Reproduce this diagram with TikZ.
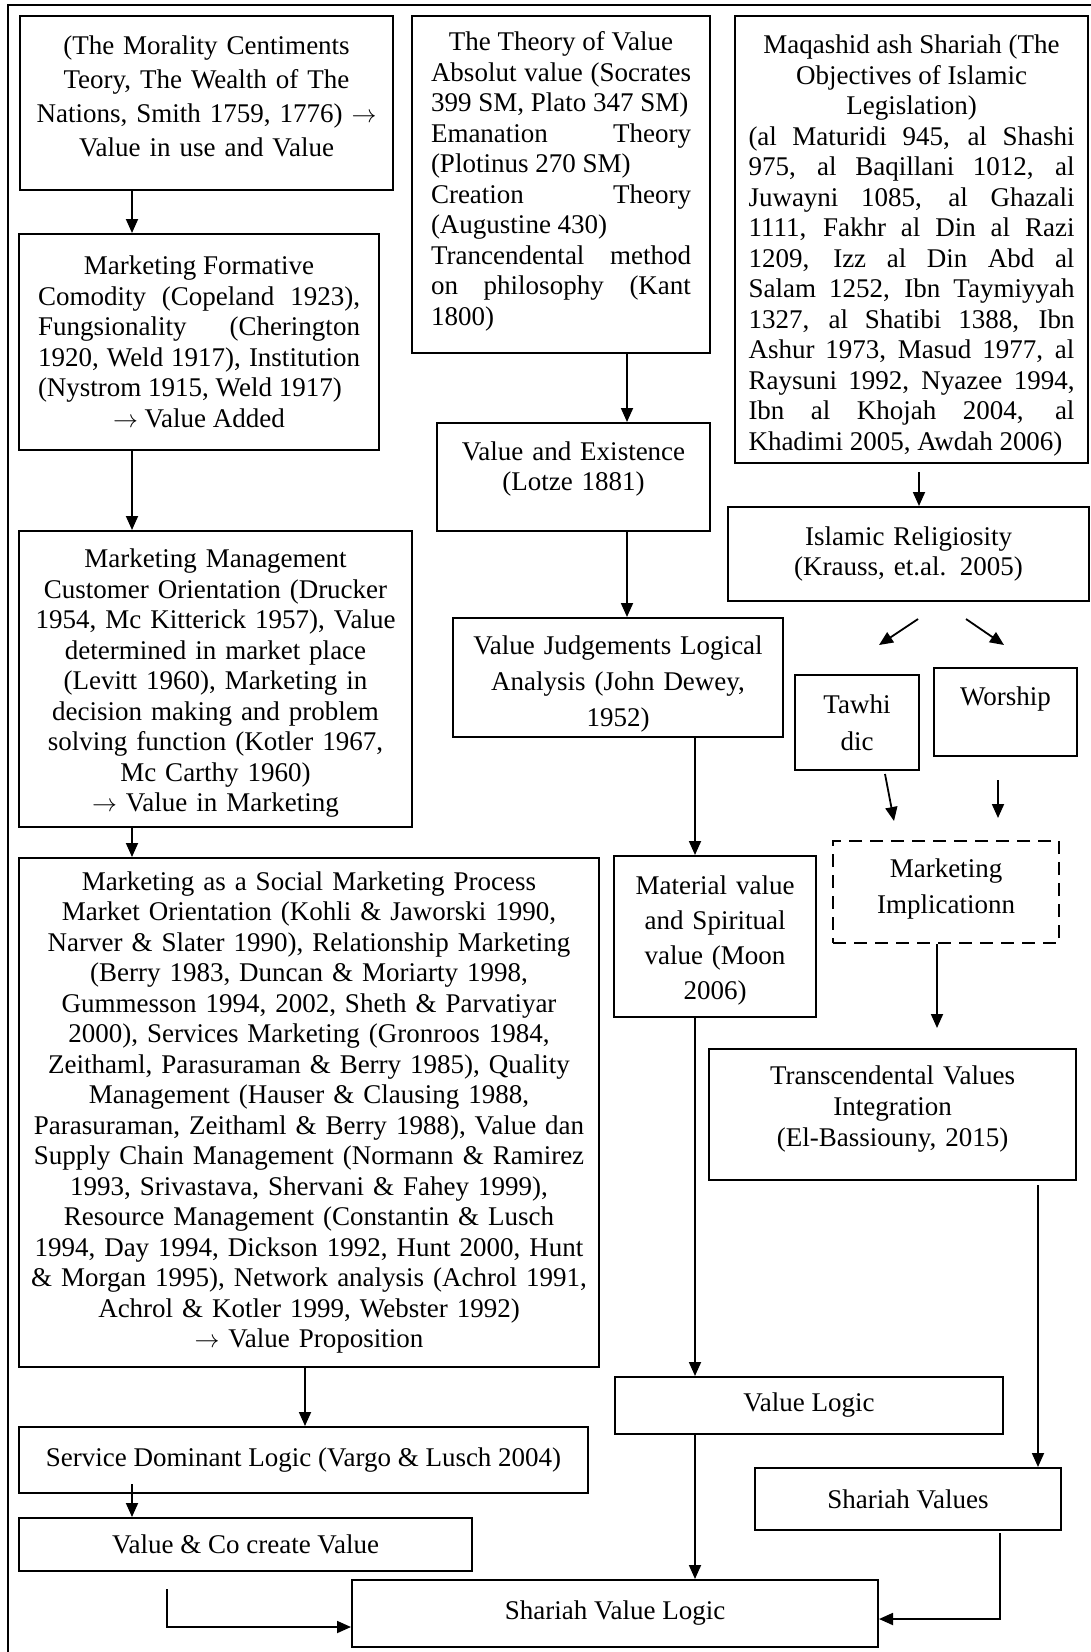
\documentclass[tikz,border=0pt]{standalone}
\usepackage{fontspec}
\setmainfont{Liberation Serif}
\usetikzlibrary{positioning, arrows.meta}

% extra room under the last line / above the first line of a box
\newcommand{\padbelow}[1]{\rule[-#1]{0pt}{#1}}
\newcommand{\padabove}[1]{\rule{0pt}{#1}}
\newcommand{\thenarrow}{$\rightarrow$}

\begin{document}
\begin{tikzpicture}[x=1pt, y=-1pt]

% Styles
\tikzset{
	flowbox/.style={
		rectangle, draw, line width=2pt, inner sep=0pt,
		align=center, font=\fontsize{27}{30.5}\selectfont
	},
	justbox/.style={flowbox, align=justify},
	dashbox/.style={flowbox, dash pattern=on 13pt off 8pt},
	arrowflow/.style={line width=1.8pt, -{Triangle[length=14pt, width=12pt]}}
}

\useasboundingbox (0,0) rectangle (1091,1652);

% Outer frame
\draw[line width=2.5pt] (8,1652) -- (8,5) -- (1091,5);

% Marketing thought (left column)
\node (morality) [flowbox, minimum width=373pt, minimum height=174pt, text width=350pt, font=\fontsize{27}{34}\selectfont] at (206.5,103) {(The Morality Centiments\\Teory, The Wealth of The\\Nations, Smith 1759, 1776) \thenarrow\\Value in use and Value\padbelow{14pt}};
\node (formative) [justbox, minimum width=360pt, minimum height=216pt, text width=322pt] at (199,342) {\hspace*{\fill}Marketing Formative\hspace*{\fill}\linebreak Comodity (Copeland 1923),\linebreak Fungsionality (Cherington\linebreak 1920, Weld 1917), Institution\linebreak (Nystrom 1915, Weld 1917)\par\hbox to\linewidth{\hfil\thenarrow{} Value Added\hfil}};
\node (mgmt) [flowbox, minimum width=393pt, minimum height=296pt, text width=385pt] at (215.5,679) {\padabove{27pt}Marketing Management\\Customer Orientation (Drucker\\1954, Mc Kitterick 1957), Value\\determined in market place\\(Levitt 1960), Marketing in\\decision making and problem\\solving function (Kotler 1967,\\Mc Carthy 1960)\\\thenarrow{} Value in Marketing};
\node (social) [flowbox, minimum width=580pt, minimum height=509pt, text width=572pt] at (309,1112.5) {Marketing as a Social Marketing Process\\Market Orientation (Kohli \& Jaworski 1990,\\Narver \& Slater 1990), Relationship Marketing\\(Berry 1983, Duncan \& Moriarty 1998,\\Gummesson 1994, 2002, Sheth \& Parvatiyar\\2000), Services Marketing (Gronroos 1984,\\Zeithaml, Parasuraman \& Berry 1985), Quality\\Management (Hauser \& Clausing 1988,\\Parasuraman, Zeithaml \& Berry 1988), Value dan\\Supply Chain Management (Normann \& Ramirez\\1993, Srivastava, Shervani \& Fahey 1999),\\Resource Management (Constantin \& Lusch\\1994, Day 1994, Dickson 1992, Hunt 2000, Hunt\\\& Morgan 1995), Network analysis (Achrol 1991,\\Achrol \& Kotler 1999, Webster 1992)\\\thenarrow{} Value Proposition};
\node (sdl) [flowbox, minimum width=569pt, minimum height=66pt] at (303.5,1460) {Service Dominant Logic (Vargo \& Lusch 2004)};
\node (cocreate) [flowbox, minimum width=453pt, minimum height=53pt] at (245.5,1544.5) {Value \& Co create Value};

% Theory of value (middle column)
\node (theory) [justbox, minimum width=298pt, minimum height=337pt, text width=260pt] at (561,184.5) {\hspace*{\fill}The Theory of Value\hspace*{\fill}\linebreak Absolut value (Socrates\linebreak 399 SM, Plato 347 SM)\\ Emanation Theory\linebreak (Plotinus 270 SM)\\ Creation Theory\linebreak (Augustine 430)\\ Trancendental method\linebreak on philosophy (Kant\linebreak 1800)\padbelow{12pt}};
\node (existence) [flowbox, minimum width=273pt, minimum height=108pt, text width=260pt] at (573.5,477) {Value and Existence\\(Lotze 1881)\padbelow{22pt}};
\node (judgement) [flowbox, minimum width=330pt, minimum height=119pt, text width=320pt, font=\fontsize{27}{36}\selectfont] at (618,677.5) {\padabove{31pt}Value Judgements Logical\\Analysis (John Dewey,\\1952)};
\node (material) [flowbox, minimum width=202pt, minimum height=161pt, text width=195pt, font=\fontsize{27}{35}\selectfont] at (715,936.5) {\padabove{27pt}Material value\\and Spiritual\\value (Moon\\2006)};
\node (valuelogic) [flowbox, minimum width=388pt, minimum height=57pt] at (809,1405.5) {Value Logic};

% Maqashid ash Shariah (right column)
\node (maqashid) [justbox, minimum width=353pt, minimum height=447pt, text width=326pt] at (911.5,239.5) {\padabove{31pt}\hspace*{\fill}Maqashid ash Shariah (The\hspace*{\fill}\linebreak \hspace*{\fill}Objectives of Islamic\hspace*{\fill}\linebreak \hspace*{\fill}Legislation)\hspace*{\fill}\linebreak (al Maturidi 945, al Shashi\linebreak 975, al Baqillani 1012, al\linebreak Juwayni 1085, al Ghazali\linebreak 1111, Fakhr al Din al Razi\linebreak 1209, Izz al Din Abd al\linebreak Salam 1252, Ibn Taymiyyah\linebreak 1327, al Shatibi 1388, Ibn\linebreak Ashur 1973, Masud 1977, al\linebreak Raysuni 1992, Nyazee 1994,\linebreak Ibn al Khojah 2004, al\linebreak Khadimi 2005, Awdah 2006)};
\node (religiosity) [flowbox, minimum width=361pt, minimum height=94pt, text width=340pt] at (908.5,554) {Islamic Religiosity\\(Krauss, et.al. 2005)};
\node (tawhidic) [flowbox, minimum width=124pt, minimum height=95pt, text width=110pt, font=\fontsize{27}{37}\selectfont] at (857,722.5) {Tawhi\\dic};
\node (worship) [flowbox, minimum width=143pt, minimum height=88pt, text width=130pt] at (1005.5,712) {Worship\padbelow{31pt}};
\node (implication) [dashbox, minimum width=226pt, minimum height=102pt, text width=210pt, font=\fontsize{27}{36}\selectfont] at (946,892) {Marketing\\Implicationn\padbelow{12pt}};
\node (transcendental) [flowbox, minimum width=367pt, minimum height=131pt, text width=350pt, font=\fontsize{27}{31}\selectfont] at (892.5,1114.5) {Transcendental Values\\Integration\\(El-Bassiouny, 2015)\padbelow{16pt}};
\node (shariahval) [flowbox, minimum width=306pt, minimum height=62pt] at (908,1499) {Shariah Values};

% Result
\node (svl) [flowbox, minimum width=526pt, minimum height=67pt] at (615,1613.5) {Shariah Value Logic};

% Columns of the vertical arrows
\coordinate (colA) at (132,0);
\coordinate (colD) at (305,0);
\coordinate (colB) at (627,0);
\coordinate (colC) at (695,0);
\coordinate (colE) at (919,0);
\coordinate (colF) at (937,0);
\coordinate (colG) at (1038,0);
\coordinate (colH) at (1000,0);

% Free ends
\coordinate (forkL) at (918,619);
\coordinate (toTaw) at (879,645);
\coordinate (forkR) at (966,619);
\coordinate (toWor) at (1004,645);
\coordinate (tawIn) at (894,821);
\coordinate (worIn) at (998,818);
\coordinate (coFeed) at (167,1589);

% Left arrows
\draw[arrowflow] (morality.south -| colA) -- (formative.north -| colA);
\draw[arrowflow] (formative.south -| colA) -- (mgmt.north -| colA);
\draw[arrowflow] (mgmt.south -| colA) -- (social.north -| colA);
\draw[arrowflow] (social.south -| colD) -- (sdl.north -| colD);
\draw[arrowflow] (sdl.south -| colA) ++(0,-10) -- (cocreate.north -| colA);
\draw[arrowflow] (coFeed) |- ([yshift=-13.5pt]svl.west);

% Middle arrows
\draw[arrowflow] (theory.south -| colB) -- (existence.north -| colB);
\draw[arrowflow] (existence.south -| colB) -- (judgement.north -| colB);
\draw[arrowflow] (judgement.south -| colC) -- (material.north -| colC);
\draw[arrowflow] (material.south -| colC) -- (valuelogic.north -| colC);
\draw[arrowflow] (valuelogic.south -| colC) -- (svl.north -| colC);

% Right arrows
\draw[arrowflow] (maqashid.south -| colE) ++(0,8) -- (religiosity.north -| colE);
\draw[arrowflow] (forkL) -- (toTaw);
\draw[arrowflow] (forkR) -- (toWor);
\draw[arrowflow] ([shift={(28,3)}]tawhidic.south) -- (tawIn);
\draw[arrowflow] ([shift={(-7.5,23)}]worship.south) -- (worIn);
\draw[arrowflow, shorten >=20pt] (implication.south -| colF) -- (transcendental.north -| colF);
\draw[arrowflow] (transcendental.south -| colG) ++(0,4) -- (shariahval.north -| colG);
\draw[arrowflow] (shariahval.south -| colH) ++(0,2) |- ([yshift=-5.5pt]svl.east);

\end{tikzpicture}
\end{document}
